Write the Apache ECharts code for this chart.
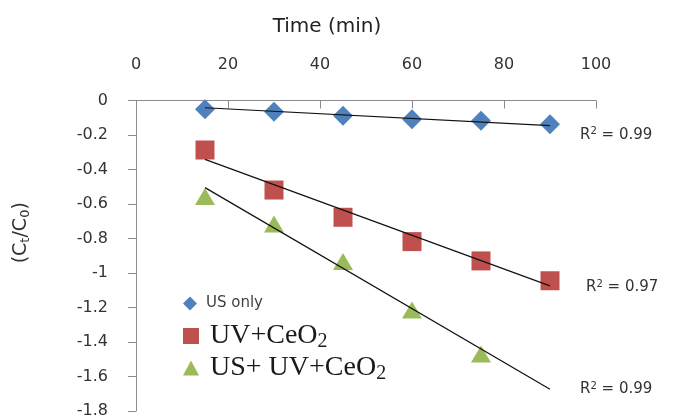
<!DOCTYPE html>
<html>
<head>
<meta charset="utf-8">
<script src="https://cdn.jsdelivr.net/npm/echarts@6/dist/echarts.min.js"></script>
<style>
  html, body { margin: 0; padding: 0; background: #fff; }
  #chart { width: 675px; height: 419px; }
</style>
</head>
<body>
<div id="chart"></div>
<script>
// time points (min)
const times = [15, 30, 45, 60, 75, 90]
const usOnly = [-0.051, -0.065, -0.088, -0.109, -0.117, -0.138]
const uvCeO2 = [-0.287, -0.519, -0.677, -0.818, -0.930, -1.045]
const usUvCeO2 = [-0.557, -0.716, -0.934, -1.214, -1.470]

// linear trendline ends
const trendX = [15, 90]
const usOnlyTrend = [-0.042, -0.146]
const uvCeO2Trend = [-0.341, -1.075]
const usUvCeO2Trend = [-0.505, -1.674]
const r2Labels = ['0.99', '0.97', '0.99']

const pair = (xs, ys) => ys.map((y, i) => [xs[i], y])

const axisFont = 'DejaVu Sans'
const serif = 'Liberation Serif'

const richR2 = {
  r: { fontFamily: axisFont, fontSize: 15, color: '#333' },
  sup: { fontFamily: axisFont, fontSize: 10, color: '#333', verticalAlign: 'top', padding: [0, 0, 6, 0] }
}

const richSerif = {
  a: { fontFamily: serif, fontSize: 28, color: '#1a1a1a', padding: [0, 0, 0, 6] },
  b: { fontFamily: serif, fontSize: 20, color: '#1a1a1a', padding: [12, 0, 0, 0] }
}

function trend(name, ys, label, offset) {
  return {
    name: name,
    type: 'line',
    data: pair(trendX, ys),
    symbol: 'none',
    silent: true,
    lineStyle: { color: '#111', width: 1.2 },
    endLabel: {
      show: true,
      formatter: '{r|R}{sup|2}{r| = ' + label + '}',
      rich: richR2,
      offset: offset
    },
    z: 3
  }
}

const chart = echarts.init(document.getElementById('chart'))
chart.setOption({
  animation: false,
  grid: { left: 136, right: 79, top: 100.5, bottom: 8, outerBoundsMode: 'none' },
  legend: [
    {
      data: ['US only'], left: 183, top: 296, padding: 0, itemWidth: 14, itemHeight: 14,
      formatter: () => '{a|US only}',
      textStyle: { rich: { a: { fontFamily: axisFont, fontSize: 15, color: '#404040', padding: [0, 0, 0, 4] } } }
    },
    {
      data: ['UV+CeO2'], left: 183, top: 322, padding: 0, itemWidth: 16, itemHeight: 16,
      formatter: () => '{a|UV+CeO}{b|2}',
      textStyle: { rich: richSerif }
    },
    {
      data: ['US+ UV+CeO2'], left: 183, top: 354, padding: 0, itemWidth: 16, itemHeight: 15,
      formatter: () => '{a|US+ UV+CeO}{b|2}',
      textStyle: { rich: richSerif }
    }
  ],
  xAxis: {
    type: 'value',
    position: 'top',
    min: 0,
    max: 100,
    interval: 20,
    name: 'Time (min)',
    nameLocation: 'middle',
    nameGap: 64,
    nameTextStyle: { fontFamily: axisFont, fontSize: 20, color: '#222', padding: [0, 78, 0, 0] },
    axisLine: { onZero: false, lineStyle: { color: '#8c8c8c', width: 1 } },
    axisTick: { show: true, inside: true, length: 8, lineStyle: { color: '#8c8c8c' } },
    axisLabel: { margin: 28, fontFamily: axisFont, fontSize: 16, color: '#333' },
    splitLine: { show: false }
  },
  yAxis: {
    type: 'value',
    min: -1.8,
    max: 0,
    interval: 0.2,
    name: '{a|(C}{s|t}{a|/C}{s|0}{a|)}',
    nameLocation: 'middle',
    nameRotate: 90,
    nameGap: 104,
    nameTextStyle: {
      padding: [0, 0, 0, 46],
      rich: {
        a: { fontFamily: axisFont, fontSize: 19, color: '#333' },
        s: { fontFamily: axisFont, fontSize: 13, color: '#333', padding: [8, 0, 0, 0] }
      }
    },
    axisLine: { show: true, onZero: false, lineStyle: { color: '#8c8c8c', width: 1 } },
    axisTick: { show: true, length: 8, lineStyle: { color: '#8c8c8c' } },
    axisLabel: {
      margin: 28, fontFamily: axisFont, fontSize: 16, color: '#333',
      formatter: v => (Math.abs(v) < 1e-9 ? '0' : String(+v.toFixed(1)))
    },
    splitLine: { show: false }
  },
  series: [
    {
      name: 'US only', type: 'scatter', data: pair(times, usOnly),
      symbol: 'diamond', symbolSize: 20, itemStyle: { color: '#4F81BD', opacity: 1 }, z: 2
    },
    {
      name: 'UV+CeO2', type: 'scatter', data: pair(times, uvCeO2),
      symbol: 'rect', symbolSize: 19, itemStyle: { color: '#C0504D', opacity: 1 }, z: 2
    },
    {
      name: 'US+ UV+CeO2', type: 'scatter', data: pair(times, usUvCeO2),
      symbol: 'triangle', symbolSize: [20, 17], itemStyle: { color: '#9BBB59', opacity: 1 }, z: 2
    },
    trend('trend1', usOnlyTrend, r2Labels[0], [22, 9]),
    trend('trend2', uvCeO2Trend, r2Labels[1], [28, 1]),
    trend('trend3', usUvCeO2Trend, r2Labels[2], [22, 0])
  ]
})
</script>
</body>
</html>
